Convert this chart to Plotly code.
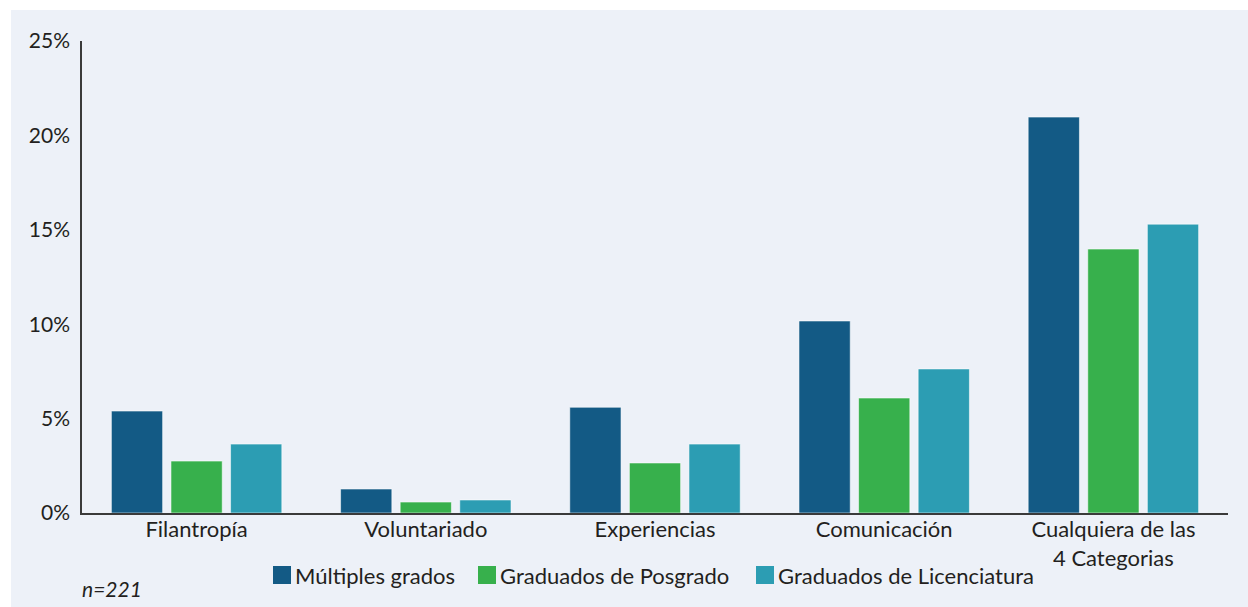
import plotly.graph_objects as go

categorias = ['Filantropía', 'Voluntariado', 'Experiencias', 'Comunicación',
              'Cualquiera de las<br>4 Categorias']

multiples_grados = [5.4, 1.27, 5.6, 10.17, 20.97]
graduados_posgrado = [2.75, 0.58, 2.65, 6.09, 13.98]
graduados_licenciatura = [3.65, 0.69, 3.65, 7.63, 15.3]

series = [
    ('Múltiples grados', multiples_grados, '#135A85'),
    ('Graduados de Posgrado', graduados_posgrado, '#37B04C'),
    ('Graduados de Licenciatura', graduados_licenciatura, '#2C9DB3'),
]

FONDO = '#EDF1F8'
TEXTO = '#231F20'

# área de trazado en píxeles (para colocar la leyenda a mano)
IZQ, DER, ARR, ABA = 82, 1228, 41, 513


def px_x(px):
    return (px - IZQ) / (DER - IZQ)


def px_y(px):
    return (ABA - px) / (ABA - ARR)


fig = go.Figure()
for nombre, valores, color in series:
    fig.add_trace(go.Bar(
        name=nombre,
        x=categorias,
        y=valores,
        marker=dict(color=color, line=dict(color='rgba(255,255,255,0.55)', width=1)),
        hovertemplate='%{x}<br>' + nombre + ': %{y}%<extra></extra>',
        showlegend=False,
    ))

# franjas blancas arriba e izquierda
formas = [
    dict(type='rect', xref='paper', yref='paper',
         x0=-0.1, x1=1.1, y0=px_y(10), y1=1.2,
         fillcolor='white', line_width=0, layer='below'),
    dict(type='rect', xref='paper', yref='paper',
         x0=-0.1, x1=px_x(11), y0=-0.3, y1=1.2,
         fillcolor='white', line_width=0, layer='below'),
]

# leyenda dibujada a mano: cuadrado grande y texto pegado
posiciones_leyenda = [273, 478, 756]
for (nombre, _, color), x0 in zip(series, posiciones_leyenda):
    formas.append(dict(
        type='rect', xref='paper', yref='paper',
        x0=px_x(x0), x1=px_x(x0 + 18), y0=px_y(584), y1=px_y(566),
        fillcolor=color, line_width=0,
    ))
    fig.add_annotation(
        text=nombre, xref='paper', yref='paper',
        x=px_x(x0 + 20), y=px_y(575), xanchor='left', yanchor='middle',
        showarrow=False, font=dict(size=22, color=TEXTO),
    )

fig.add_annotation(
    text='<i>n=221</i>', xref='paper', yref='paper',
    x=px_x(80), y=px_y(588), xanchor='left', yanchor='middle',
    showarrow=False, font=dict(size=21, color=TEXTO),
)

fig.update_layout(
    width=1248,
    height=607,
    barmode='group',
    bargap=0.22,
    bargroupgap=0.14,
    paper_bgcolor=FONDO,
    plot_bgcolor=FONDO,
    font=dict(family='Lato, "Open Sans", sans-serif', size=21, color=TEXTO),
    margin=dict(l=IZQ, r=1248 - DER, t=ARR, b=607 - ABA),
    xaxis=dict(
        showline=True, linecolor='#3a3a3a', linewidth=1.5,
        ticks='', showgrid=False, tickfont=dict(size=22),
        ticklabelstandoff=-4,
    ),
    yaxis=dict(
        range=[0, 25], dtick=5, ticksuffix='%',
        showline=True, linecolor='#3a3a3a', linewidth=1.5,
        ticks='', showgrid=False, zeroline=False,
        tickfont=dict(size=21), ticklabelstandoff=6,
    ),
    showlegend=False,
    shapes=formas,
)

fig.write_html('out.html', config={'displayModeBar': False},
               post_script="document.body.style.margin='0';")
